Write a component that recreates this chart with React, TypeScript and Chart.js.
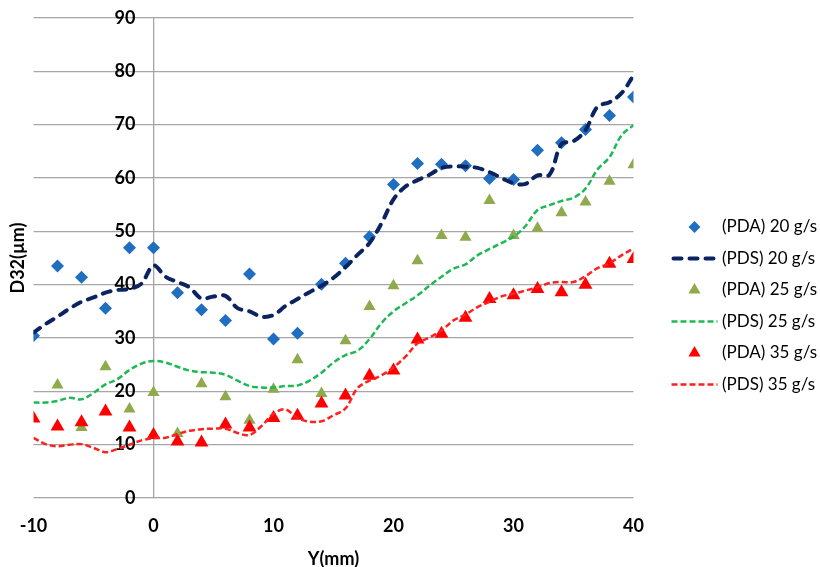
import React, { useEffect, useRef } from 'react';
import { Chart, registerables } from 'chart.js';

Chart.register(...registerables);

// Measured (PDA) positions, mm
const pdaX = [-10, -8, -6, -4, -2, 0, 2, 4, 6, 8, 10, 12, 14, 16, 18, 20, 22, 24, 26, 28, 30, 32, 34, 36, 38, 40];
const pda20 = [30.4, 43.5, 41.4, 35.6, 46.9, 46.9, 38.5, 35.3, 33.3, 42.0, 29.8, 30.9, 40.1, 44.0, 49.0, 58.8, 62.7, 62.6, 62.3, 59.9, 59.7, 65.2, 66.6, 69.1, 71.7, 75.2];
const pda25 = [null, 21.2, 13.2, 24.6, 16.7, 19.8, 12.1, 21.4, 19.0, 14.6, 20.4, 25.9, 19.6, 29.5, 35.9, 39.8, 44.5, 49.2, 48.9, 55.8, 49.2, 50.6, 53.5, 55.5, 59.4, 62.5];
const pda35 = [14.9, 13.4, 14.2, 16.2, 13.2, 11.8, 10.6, 10.4, 13.8, 13.2, 15.0, 15.4, 17.7, 19.2, 22.9, 23.9, 29.7, 30.8, 33.8, 37.3, 38.0, 39.2, 38.6, 40.0, 43.9, 44.8];

// Simulated (PDS) positions, mm
const pdsX = [-10, -9, -8, -7, -6, -5, -4, -3, -2, -1, 0, 1, 2, 3, 4, 5, 6, 7, 8, 9, 10, 11, 12, 13, 14, 15, 16, 17, 18, 19, 20, 21, 22, 23, 24, 25, 26, 27, 28, 29, 30, 31, 32, 33, 34, 35, 36, 37, 38, 39, 40];
const pds20 = [31.0, 32.6, 34.0, 35.5, 36.8, 37.6, 38.5, 39.0, 39.2, 40.2, 43.6, 41.5, 40.5, 39.5, 37.4, 37.8, 37.9, 35.6, 35.0, 34.0, 34.3, 36.0, 37.3, 38.6, 39.8, 41.3, 43.3, 45.6, 47.8, 51.5, 56.0, 58.4, 59.6, 60.6, 61.9, 62.2, 62.1, 61.9, 61.1, 60.0, 59.0, 58.9, 60.5, 60.6, 66.4, 66.9, 69.0, 73.4, 74.2, 75.9, 79.2];
const pds25 = [17.9, 17.9, 18.2, 18.8, 18.5, 19.7, 21.3, 22.3, 24.0, 25.2, 25.7, 25.4, 24.6, 23.9, 23.6, 23.5, 23.1, 22.0, 21.0, 20.7, 20.7, 21.0, 21.1, 22.0, 23.5, 25.4, 26.8, 27.6, 29.8, 32.8, 35.0, 36.5, 38.0, 39.8, 41.5, 43.0, 43.8, 45.5, 46.7, 47.8, 49.0, 51.0, 54.0, 54.9, 55.7, 56.3, 58.0, 61.6, 63.9, 68.0, 69.9];
const pds35 = [11.3, 10.1, 9.7, 10.0, 10.1, 9.4, 8.6, 9.2, 10.0, 10.8, 11.2, 11.3, 12.0, 12.6, 12.9, 13.0, 13.0, 12.2, 11.8, 13.5, 15.8, 16.6, 15.0, 14.3, 14.4, 15.5, 16.8, 20.6, 22.0, 23.0, 24.5, 26.5, 29.0, 30.1, 31.4, 33.3, 34.4, 35.8, 36.8, 37.8, 38.3, 38.9, 39.5, 40.3, 40.5, 40.5, 41.6, 43.1, 44.0, 45.5, 46.8];

const seriesLabels = ['(PDA) 20 g/s', '(PDS) 20 g/s', '(PDA) 25 g/s', '(PDS) 25 g/s', '(PDA) 35 g/s', '(PDS) 35 g/s'];
const xTitle = 'Y(mm)';
const yTitle = 'D32(µm)';

const toPoints = (xs: number[], ys: (number | null)[]) =>
  xs.map((x, i) => ({ x, y: ys[i] })).filter((p) => p.y !== null);

const FONT = 'Lato';
const AXIS_FONT = { family: FONT, size: 18, weight: 'bold' };

const sideLegend = {
  id: 'sideLegend',
  afterDraw(chart: any) {
    const ctx = chart.ctx as CanvasRenderingContext2D;
    const ca = chart.chartArea;
    const lineStart = ca.right + 38;
    const lineW = 46;
    const cx = lineStart + lineW / 2;
    const textX = ca.right + 88.5;
    chart.data.datasets.forEach((ds: any, i: number) => {
      const y = 227 + i * 31.5;
      ctx.save();
      if (ds.showLine === false) {
        ctx.fillStyle = ds.backgroundColor;
        ctx.beginPath();
        if (ds.pointStyle === 'rectRot') {
          const r = 6;
          ctx.moveTo(cx - r, y);
          ctx.lineTo(cx, y - r);
          ctx.lineTo(cx + r, y);
          ctx.lineTo(cx, y + r);
        } else {
          const r = 7;
          ctx.moveTo(cx, y - r);
          ctx.lineTo(cx + r * 0.866, y + r / 2);
          ctx.lineTo(cx - r * 0.866, y + r / 2);
        }
        ctx.closePath();
        ctx.fill();
      } else {
        ctx.strokeStyle = ds.borderColor;
        ctx.lineWidth = ds.borderWidth;
        ctx.lineCap = ds.borderCapStyle || 'butt';
        ctx.setLineDash(ds.borderDash || []);
        ctx.beginPath();
        ctx.moveTo(lineStart + (ds.borderCapStyle === 'round' ? 2 : 0), y);
        ctx.lineTo(lineStart + lineW, y);
        ctx.stroke();
      }
      ctx.setLineDash([]);
      ctx.fillStyle = '#000';
      ctx.font = `17px ${FONT}`;
      ctx.textBaseline = 'middle';
      ctx.textAlign = 'left';
      ctx.fillText(ds.label, textX, y);
      ctx.restore();
    });
  },
};

export default function App() {
  const canvasRef = useRef<HTMLCanvasElement | null>(null);

  useEffect(() => {
    if (!canvasRef.current) return;
    const markerBase = { type: 'line', showLine: false, borderWidth: 0, pointBorderWidth: 0, pointHoverRadius: 0 };
    const lineBase = { type: 'line', pointRadius: 0, pointHoverRadius: 0, fill: false, tension: 0.35 };
    const chart = new Chart(canvasRef.current, {
      type: 'line',
      data: {
        datasets: [
          {
            ...markerBase, label: seriesLabels[0], data: toPoints(pdaX, pda20), pointStyle: 'rectRot', pointRadius: 6.5,
            backgroundColor: '#1F6EC0', borderColor: '#1F6EC0', order: 6,
          },
          {
            ...lineBase, label: seriesLabels[1], data: toPoints(pdsX, pds20), borderColor: '#0B2461', backgroundColor: '#0B2461',
            borderWidth: 4, borderDash: [8, 8], borderCapStyle: 'round', order: 5,
          },
          {
            ...markerBase, label: seriesLabels[2], data: toPoints(pdaX, pda25), pointStyle: 'triangle', pointRadius: 7,
            backgroundColor: '#8FAA4C', borderColor: '#8FAA4C', order: 4,
          },
          {
            ...lineBase, label: seriesLabels[3], data: toPoints(pdsX, pds25), borderColor: '#1DB954', backgroundColor: '#1DB954',
            borderWidth: 2.5, borderDash: [6, 3], order: 3,
          },
          {
            ...markerBase, label: seriesLabels[4], data: toPoints(pdaX, pda35), pointStyle: 'triangle', pointRadius: 8,
            backgroundColor: '#FF0000', borderColor: '#FF0000', order: 2,
          },
          {
            ...lineBase, label: seriesLabels[5], data: toPoints(pdsX, pds35), borderColor: '#FF2020', backgroundColor: '#FF2020',
            borderWidth: 2.5, borderDash: [6, 3], order: 1,
          },
        ] as any,
      },
      options: {
        responsive: false,
        animation: false,
        events: [],
        layout: { padding: { left: 0, top: 18, right: 186.5, bottom: 0 } },
        plugins: { legend: { display: false }, tooltip: { enabled: false } },
        scales: {
          x: {
            type: 'linear',
            min: -10,
            max: 40,
            ticks: { stepSize: 10, color: '#000', padding: 17.3, font: AXIS_FONT },
            grid: { display: false, drawTicks: false },
            border: { display: false },
            title: {
              display: true, text: xTitle, color: '#000',
              font: AXIS_FONT, padding: { top: -5.4, bottom: -3.4 },
            },
          },
          y: {
            type: 'linear',
            min: 0,
            max: 90,
            position: { x: 0 } as any,
            ticks: {
              stepSize: 10, color: '#000', font: AXIS_FONT,
              callback: (v: any) => `${v}\u2003\u2009\u2009`,
            },
            grid: { color: '#A6A6A6', lineWidth: 1.3, drawTicks: false },
            border: { display: true, color: '#A6A6A6', width: 1.3 },
          },
          yTitle: {
            type: 'linear',
            position: 'left',
            display: true,
            ticks: { display: false },
            grid: { display: false, drawTicks: false },
            border: { display: false },
            title: {
              display: true, text: yTitle, color: '#000',
              font: AXIS_FONT, padding: { top: 7.2, bottom: 4.7 },
            },
          },
        },
      } as any,
      plugins: [sideLegend],
    });
    return () => chart.destroy();
  }, []);

  return (
    <div style={{ position: 'absolute', left: 0, top: 0, width: 820, height: 567, background: '#fff' }}>
      <canvas ref={canvasRef} width={820} height={567} />
    </div>
  );
}
